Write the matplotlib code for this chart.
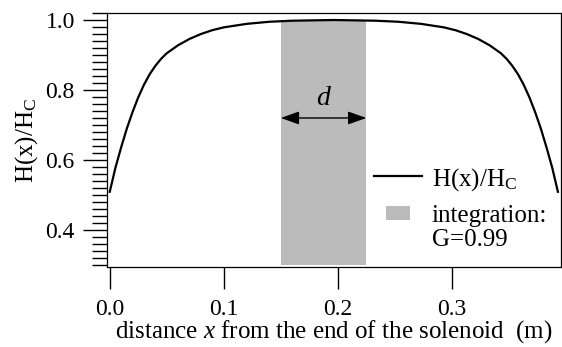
import matplotlib
matplotlib.use("Agg")
import matplotlib.pyplot as plt
import matplotlib.patches as mpatches
from matplotlib.legend_handler import HandlerPatch
from matplotlib.ticker import MultipleLocator

plt.rcParams["font.family"] = ["Liberation Serif", "DejaVu Serif"]
plt.rcParams["mathtext.fontset"] = "custom"
plt.rcParams["mathtext.rm"] = "Liberation Serif"
plt.rcParams["mathtext.it"] = "Liberation Serif:italic"

# field profile along the solenoid
x_pos = [0.000, 0.005, 0.010, 0.015, 0.020, 0.025, 0.030, 0.035, 0.040,
         0.045, 0.050, 0.060, 0.070, 0.080, 0.090, 0.100, 0.120, 0.140,
         0.160, 0.1965, 0.233, 0.253, 0.273, 0.293, 0.303, 0.313, 0.323,
         0.333, 0.343, 0.348, 0.353, 0.358, 0.363, 0.368, 0.373, 0.378,
         0.383, 0.388, 0.393]
h_ratio = [0.509, 0.578, 0.636, 0.690, 0.737, 0.779, 0.815, 0.845, 0.869,
           0.889, 0.905, 0.928, 0.946, 0.960, 0.971, 0.979, 0.989, 0.995,
           0.998, 1.000, 0.998, 0.995, 0.989, 0.979, 0.971, 0.960, 0.946,
           0.928, 0.905, 0.889, 0.869, 0.845, 0.815, 0.779, 0.737, 0.690,
           0.636, 0.578, 0.509]

# integration region d
band_x = [0.15, 0.225]
band_lo = 0.3
band_hi = 1.0
arrow_y = 0.72
d_label_y = 0.777
g_factor = 0.99

x_ticks = [0.0, 0.1, 0.2, 0.3]
y_ticks = [0.4, 0.6, 0.8, 1.0]

FS_TICK = 17
FS = 18


def small_box(legend, orig_handle, xdescent, ydescent, width, height, fontsize):
    # smaller square, lifted to the first text line
    w = width * 0.49
    h = fontsize * 0.57
    return mpatches.Rectangle((-xdescent + (width - w) / 2, -ydescent + fontsize * 0.66), w, h)


fig = plt.figure(figsize=(5.62, 3.47), dpi=100)
ax = fig.add_axes([0.190, 0.2305, 0.808, 0.732])

ax.fill_between(band_x, band_lo, band_hi, color="#bbbbbb", lw=0, zorder=1)
line, = ax.plot(x_pos, h_ratio, color="black", lw=1.6, zorder=3)

ax.annotate("", xy=(band_x[0], arrow_y), xytext=(band_x[1], arrow_y),
            arrowprops=dict(arrowstyle="<|-|>,head_length=0.7,head_width=0.25",
                            mutation_scale=16, color="black", lw=1,
                            shrinkA=0, shrinkB=0), zorder=4)
ax.text(sum(band_x) / 2, d_label_y, "d", fontstyle="italic", fontsize=FS + 2,
        ha="center", va="center", zorder=4)

ax.set_xlim(-0.0026, 0.3956)
ax.set_ylim(0.294, 1.02)
ax.set_xticks(x_ticks)
ax.set_xticklabels([f"{v:.1f}" for v in x_ticks])
ax.set_yticks(y_ticks)
ax.set_yticklabels([f"{v:.1f}" for v in y_ticks])
ax.yaxis.set_minor_locator(MultipleLocator(0.02))

ax.tick_params(axis="both", which="both", direction="out", width=1, colors="black",
               labelsize=FS_TICK, top=False, right=False)
ax.tick_params(axis="x", which="major", length=16, pad=7)
ax.tick_params(axis="y", which="major", length=17, pad=6)
ax.tick_params(axis="y", which="minor", length=11)

for sp in ax.spines.values():
    sp.set_linewidth(0.9)
    sp.set_color("black")

ax.set_xlabel("distance $x$ from the end of the solenoid  (m)", fontsize=FS, labelpad=-1.5)
ax.set_ylabel("H(x)/H$_\\mathrm{C}$", fontsize=FS, labelpad=4)

band_handle = mpatches.Patch(color="#bbbbbb", lw=0)
leg = ax.legend([line, band_handle],
                ["H(x)/H$_\\mathrm{C}$", f"integration:\nG={g_factor}"],
                loc="upper left", bbox_to_anchor=(0.567, 0.438), frameon=False,
                fontsize=FS, handlelength=1.9, handletextpad=0.4,
                labelspacing=0.5, borderaxespad=0,
                handler_map={mpatches.Patch: HandlerPatch(patch_func=small_box)})
for t in leg.get_texts():
    t.set_linespacing(1.12)

fig.savefig("out.png", dpi=100)
